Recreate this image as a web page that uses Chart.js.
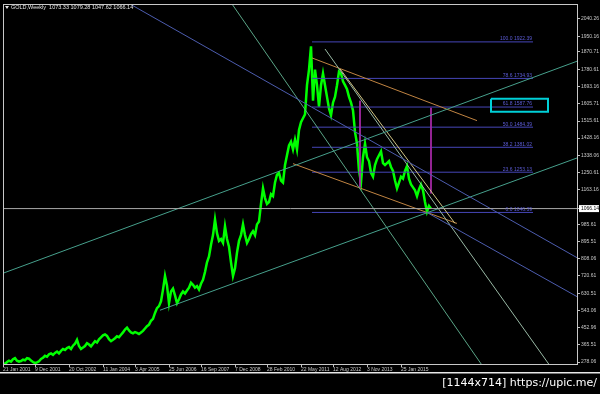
<!DOCTYPE html>
<html>
<head>
<meta charset="utf-8">
<script src="https://cdn.jsdelivr.net/npm/chart.js@4.4.1/dist/chart.umd.min.js"></script>
<style>
html, body { margin: 0; padding: 0; background: #000; }
canvas { display: block; }
</style>
</head>
<body>
<canvas id="goldChart" width="600" height="394"></canvas>
<script>
// GOLD weekly, one point for roughly every 4 bars
const closes = [
  272, 268, 278, 285, 280, 292, 298, 285, 280, 283, 290, 287, 298, 295, 285, 278, 272,
  276, 282, 294, 300, 310, 305, 318, 322, 315, 325, 332, 322, 335, 345, 340, 350,
  355, 345, 362, 372, 392, 360, 345, 352, 360, 375, 368, 358, 372, 385, 378, 395,
  405, 415, 420, 412, 395, 385, 392, 400, 410, 405, 418, 430, 445, 455, 440,
  430, 425, 432, 428, 422, 430, 438, 450, 462, 470, 490, 500, 530, 555, 565,
  590, 650, 720, 670, 580, 640, 655, 620, 580, 600, 625, 640, 630, 645, 660, 685, 675,
  660, 668, 650, 680, 700, 740, 790, 820, 880, 930, 1010, 940, 900, 910, 890, 975,
  910, 870, 790, 720, 760, 840, 900, 930, 985, 930, 890, 910, 935, 950, 930, 985, 1000,
  1090, 1170, 1120, 1090, 1100, 1140, 1130, 1200, 1240, 1250, 1210, 1200, 1290, 1340, 1390,
  1410, 1370, 1420, 1370, 1470, 1510, 1530,
  1550, 1700, 1780, 1900, 1620, 1780, 1700, 1590, 1700, 1760, 1700, 1640, 1580, 1545, 1610, 1640,
  1700, 1770, 1760, 1720, 1700, 1680, 1640, 1610, 1570, 1460, 1400, 1260, 1200, 1330, 1400, 1330,
  1310, 1250, 1230, 1290, 1320, 1340, 1360, 1300, 1290, 1300, 1310, 1280, 1260, 1210, 1170, 1200,
  1230, 1220, 1260, 1285, 1220, 1190, 1175, 1160, 1130, 1165, 1190, 1160, 1100, 1050, 1080, 1066
];

const dateLabels = ['21 Jan 2001', '9 Dec 2001', '20 Oct 2002', '11 Jan 2004', '3 Apr 2005', '25 Jun 2006',
  '16 Sep 2007', '7 Dec 2008', '28 Feb 2010', '22 May 2011', '12 Aug 2012', '3 Nov 2013', '25 Jan 2015'];
const dateIdx = [0, 16, 33, 50, 66, 83, 99, 116, 132, 149, 165, 182, 199];

const priceTicks = [2040.26, 1950.16, 1870.71, 1780.61, 1693.16, 1605.71, 1515.61, 1428.16, 1338.06,
  1250.61, 1163.16, 1066.14, 985.61, 895.51, 808.06, 720.61, 630.51, 543.06, 452.96, 365.51, 278.06];

const headerText = 'GOLD,Weekly  1073.33 1079.28 1047.62 1066.14';
const lastPrice = 1066.14;

// fibo retracement 1922.39 -> 1046.39
const fibLow = 1046.39, fibHigh = 1922.39;
const fibLevels = [0, 23.6, 38.2, 50, 61.8, 78.6, 100];
const fibSpan = [154.5, 265];

// drawn objects, [bar, price] pairs
const blueFan = [[63.5, 2117], [287.5, 811]];
const blueLow = [[212, 1046], [287.5, 611]];
const channelTop = [[0, 734], [287.5, 1825]];
const channelBottom = [[78.5, 544], [287.5, 1328]];
const steepLeft = [[114.5, 2117], [240.5, 247]];
const steepRight = [[161, 1886], [274.3, 247]];
const downTrend = [[168.5, 1784], [226, 990]];
const orangeTop = [[154.5, 1840], [237, 1518]];
const orangeBottom = [[145, 1297], [227, 990]];
const markA = [[178.5, 1620], [178.5, 1175]];
const markB = [[214, 1584], [214, 1144]];
const labelBox = [[244, 1630], [272.5, 1564]];

const xMax = 287.5;

function seg(pts, color, width) {
  return {
    data: pts.map(p => ({ x: p[0], y: p[1] })),
    borderColor: color,
    borderWidth: width || 1,
    pointRadius: 0,
    fill: false,
    tension: 0,
    order: 0
  };
}

const datasets = [
  {
    data: closes.map((v, i) => ({ x: i, y: v })),
    borderColor: '#00ff00',
    borderWidth: 2.5,
    pointRadius: 0,
    tension: 0,
    order: 1
  },
  seg([[0, lastPrice], [xMax, lastPrice]], '#a8a8a8'),
  seg(blueFan, '#4c5cae'),
  seg(blueLow, '#4c5cae'),
  seg(channelTop, '#46a08c'),
  seg(channelBottom, '#46a08c'),
  seg(steepLeft, '#5aa486'),
  seg(steepRight, '#98b8a4'),
  seg(downTrend, '#d2c484'),
  seg(orangeTop, '#c08442'),
  seg(orangeBottom, '#c08442'),
  seg(markA, '#a828a8'),
  seg(markB, '#a828a8'),
  seg([[labelBox[0][0], labelBox[0][1]], [labelBox[1][0], labelBox[0][1]], [labelBox[1][0], labelBox[1][1]],
       [labelBox[0][0], labelBox[1][1]], [labelBox[0][0], labelBox[0][1]]], '#00d0d8', 2)
];
fibLevels.forEach(lv => {
  const p = fibLow + (fibHigh - fibLow) * lv / 100;
  datasets.push(seg([[fibSpan[0], p], [fibSpan[1], p]], '#4646b8'));
});

const decor = {
  id: 'decor',
  afterDatasetsDraw(chart) {
    const { ctx, scales: { x, y } } = chart;
    ctx.save();
    ctx.font = '5px "Liberation Sans"';
    ctx.fillStyle = '#5c5cd6';
    ctx.textAlign = 'right';
    ctx.textBaseline = 'bottom';
    fibLevels.forEach(lv => {
      const p = fibLow + (fibHigh - fibLow) * lv / 100;
      ctx.fillText(lv.toFixed(1) + ' ' + p.toFixed(2), x.getPixelForValue(fibSpan[1]) - 1, y.getPixelForValue(p) - 0.5);
    });
    ctx.restore();
  },
  afterDraw(chart) {
    const { ctx, chartArea: a, scales: { y } } = chart;
    ctx.save();
    // frame
    ctx.strokeStyle = '#c8c8c8';
    ctx.lineWidth = 1;
    ctx.strokeRect(a.left + 0.5, a.top + 0.5, a.right - a.left - 1, a.bottom - a.top);

    // header
    ctx.fillStyle = '#e6e6e6';
    ctx.beginPath();
    ctx.moveTo(5, 6); ctx.lineTo(9, 6); ctx.lineTo(7, 9); ctx.closePath();
    ctx.fill();
    ctx.font = '5.5px "Liberation Sans"';
    ctx.textAlign = 'left';
    ctx.textBaseline = 'middle';
    ctx.fillText(headerText, 11, 7.5);

    // current price tag
    const py = y.getPixelForValue(lastPrice);
    ctx.font = '5px "Liberation Sans"';
    ctx.fillStyle = '#ffffff';
    ctx.fillRect(a.right + 1, py - 3.5, 20, 7);
    ctx.fillStyle = '#000000';
    ctx.fillText(lastPrice.toFixed(2), a.right + 3, py);

    // window edge and watermark
    ctx.fillStyle = '#e8e8e8';
    ctx.fillRect(0, 372, 600, 1.5);
    ctx.font = '11px "DejaVu Sans"';
    ctx.textAlign = 'right';
    ctx.textBaseline = 'alphabetic';
    ctx.fillStyle = '#ffffff';
    ctx.fillText('[1144x714] https://upic.me/', 597, 386);
    ctx.restore();
  }
};

Chart.defaults.font.family = 'Liberation Sans';

new Chart(document.getElementById('goldChart').getContext('2d'), {
  type: 'line',
  data: { datasets: datasets },
  options: {
    responsive: false,
    animation: false,
    events: [],
    layout: { padding: { left: 3, top: 3, right: 0, bottom: 20 } },
    plugins: { legend: { display: false }, tooltip: { enabled: false } },
    scales: {
      x: {
        type: 'linear',
        min: 0,
        max: xMax,
        afterBuildTicks: s => { s.ticks = dateIdx.map(v => ({ value: v })); },
        afterFit: s => { s.height = 10; },
        border: { display: false },
        grid: { drawOnChartArea: false, drawTicks: true, tickLength: 3, color: '#c0c0c0' },
        ticks: {
          autoSkip: false,
          maxRotation: 0,
          align: 'start',
          padding: 0,
          color: '#c8c8c8',
          font: { size: 5 },
          callback: (v, i) => dateLabels[i]
        }
      },
      y: {
        position: 'right',
        min: 267.8,
        max: 2117.1,
        afterBuildTicks: s => { s.ticks = priceTicks.map(v => ({ value: v })); },
        afterFit: s => { s.width = 22; },
        border: { display: false },
        grid: { drawOnChartArea: false, drawTicks: true, tickLength: 2, color: '#c0c0c0' },
        ticks: {
          autoSkip: false,
          padding: 1,
          color: '#c8c8c8',
          font: { size: 5 },
          callback: v => v.toFixed(2)
        }
      }
    }
  },
  plugins: [decor]
});
</script>
</body>
</html>
